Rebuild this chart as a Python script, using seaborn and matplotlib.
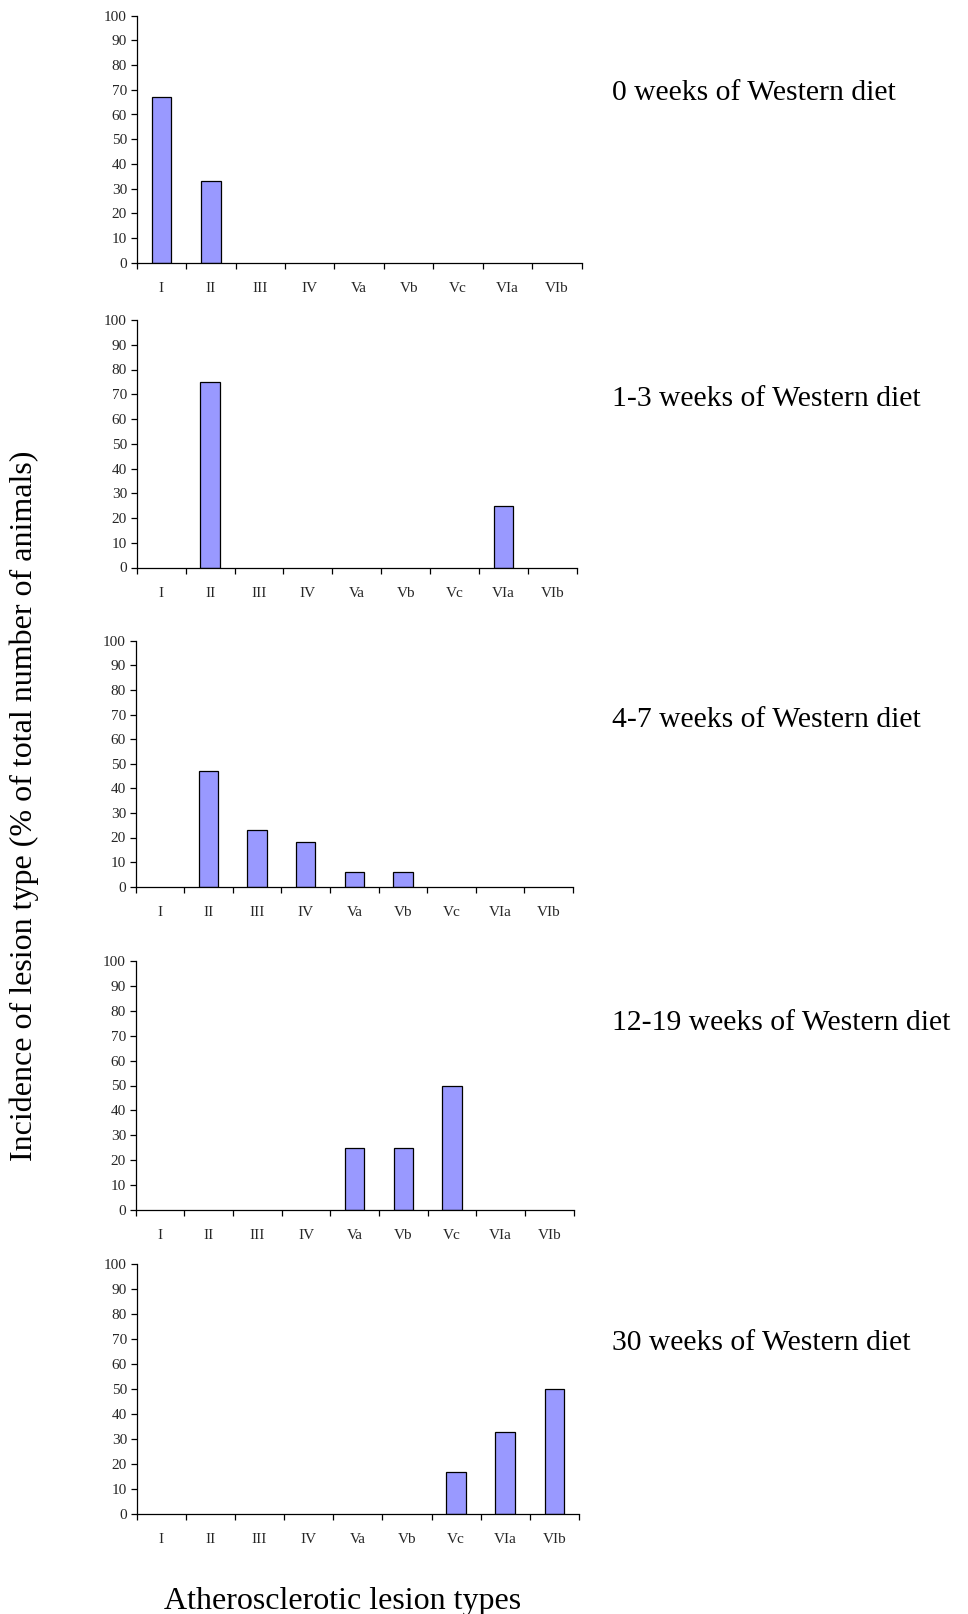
import matplotlib
matplotlib.use("Agg")
import matplotlib.pyplot as plt
import seaborn as sns
import pandas as pd
import numpy as np

sns.set_theme(style="ticks")
plt.rcParams['font.family'] = ['Liberation Serif', 'DejaVu Serif']

categories = ["I", "II", "III", "IV", "Va", "Vb", "Vc", "VIa", "VIb"]
panel_titles = ["0 weeks of Western diet", "1-3 weeks of Western diet",
                "4-7 weeks of Western diet", "12-19 weeks of Western diet",
                "30 weeks of Western diet"]
week0 = [67, 33, 0, 0, 0, 0, 0, 0, 0]
week1_3 = [0, 75, 0, 0, 0, 0, 0, 25, 0]
week4_7 = [0, 47, 23, 18, 6, 6, 0, 0, 0]
week12_19 = [0, 0, 0, 0, 25, 25, 50, 0, 0]
week30 = [0, 0, 0, 0, 0, 0, 17, 33, 50]
yticks = list(range(0, 101, 10))

series = [week0, week1_3, week4_7, week12_19, week30]

W, H = 968, 1614
fig = plt.figure(figsize=(W / 100, H / 100), dpi=100)

# pixel boxes: (left, top, right, bottom)
boxes = [(136.7, 15.7, 581.7, 262.7),
         (136.7, 320.0, 577.0, 567.5),
         (135.7, 640.7, 573.0, 886.7),
         (135.7, 961.0, 573.6, 1210.0),
         (136.7, 1264.3, 579.0, 1514.0)]
label_y = [93.5, 398.5, 719.7, 1022.5, 1343.0]

for vals, title, (l, t, r, b), ly in zip(series, panel_titles, boxes, label_y):
    ax = fig.add_axes([l / W, 1 - b / H, (r - l) / W, (b - t) / H])
    df = pd.DataFrame({"type": categories, "value": vals})
    sns.barplot(data=df, x="type", y="value", ax=ax, color="#9999FF",
                saturation=1, edgecolor="black", linewidth=0.9, width=0.4)
    for p in ax.patches:
        if p.get_height() == 0:
            p.set_linewidth(0)
    ax.set_xlim(-0.5, len(categories) - 0.5)
    ax.set_ylim(0, 100)
    ax.set_yticks(yticks)
    ax.set_yticklabels([str(v) for v in yticks], fontsize=11)
    ax.set_xticks(np.arange(len(categories) + 1) - 0.5)
    ax.set_xticklabels([])
    ax.set_xticks(np.arange(len(categories)), minor=True)
    ax.set_xticklabels(categories, minor=True, fontsize=11)
    ax.tick_params(axis="x", which="major", length=4, width=0.9, direction="out", color="black")
    ax.tick_params(axis="x", which="minor", length=0, pad=14)
    ax.tick_params(axis="y", length=4, width=0.9, direction="out", color="black", pad=3)
    ax.set_xlabel("")
    ax.set_ylabel("")
    for s in ["top", "right"]:
        ax.spines[s].set_visible(False)
    for s in ["left", "bottom"]:
        ax.spines[s].set_color("black")
        ax.spines[s].set_linewidth(0.9)
    ax.set_facecolor("white")
    fig.text(612 / W, 1 - ly / H, title, fontsize=21.3, ha="left", va="center",
             color="black")

fig.text(24 / W, 1 - 806 / H, "Incidence of lesion type (% of total number of animals)",
         rotation=90, fontsize=23, ha="center", va="center", color="black")
fig.text(343 / W, 1 - 1602 / H, "Atherosclerotic lesion types",
         fontsize=23, ha="center", va="center", color="black")

fig.savefig("out.png", dpi=100, facecolor="white")
